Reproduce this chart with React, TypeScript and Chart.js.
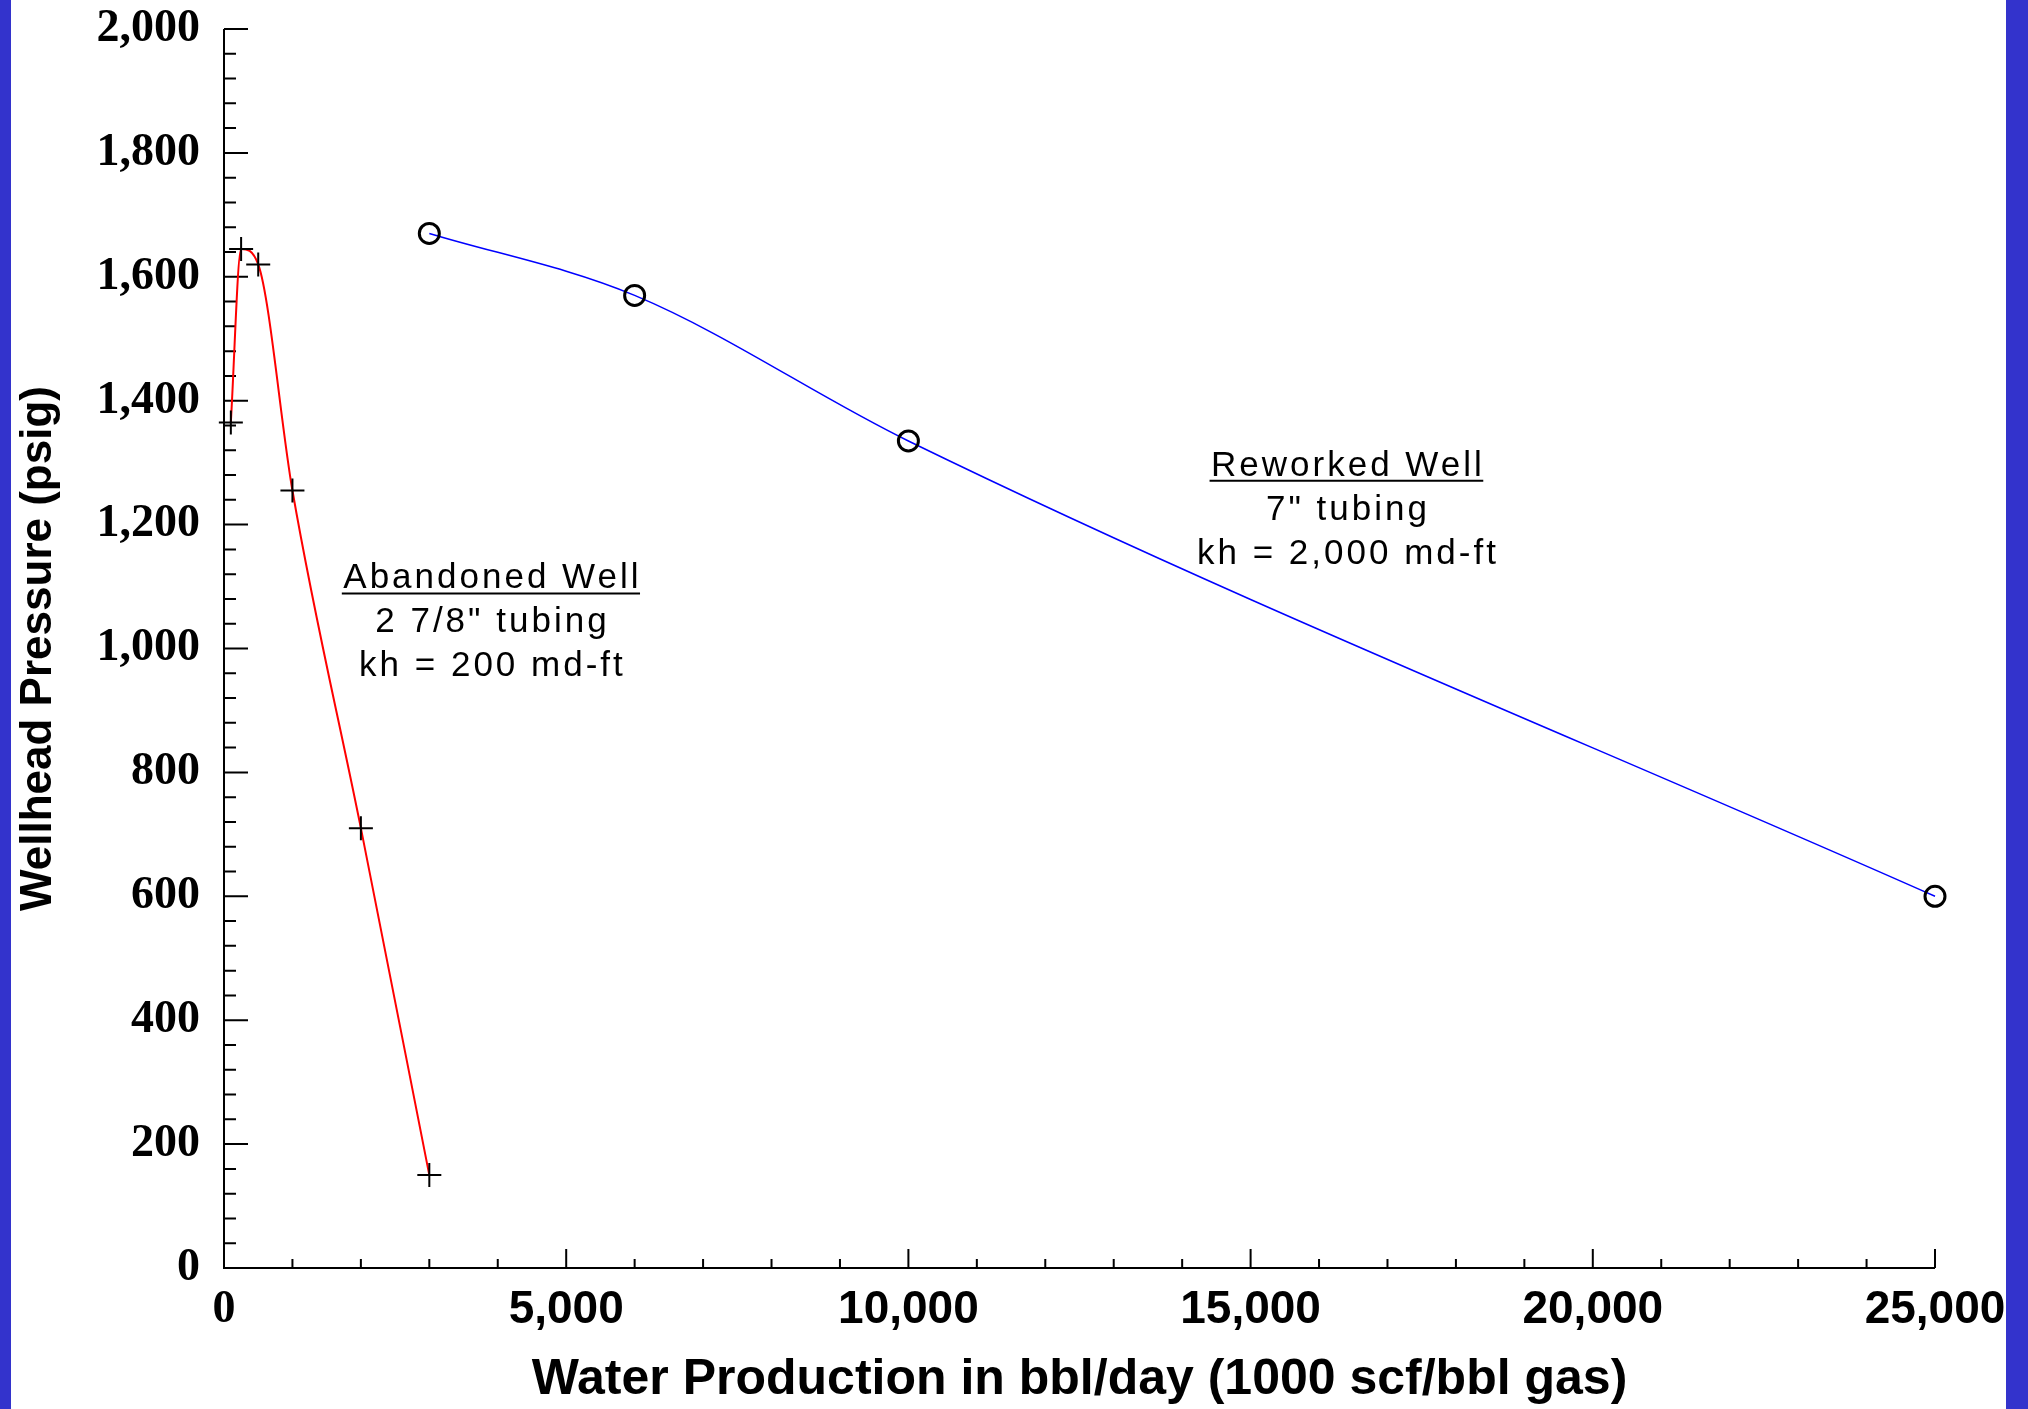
import React, { useEffect, useRef } from 'react';
import { Chart, registerables } from 'chart.js';

Chart.register(...registerables);

// ---- data ----
const abandonedX = [100, 250, 500, 1000, 2000, 3000];
const abandonedY = [1365, 1645, 1620, 1255, 710, 150];
const reworkedX = [3000, 6000, 10000, 25000];
const reworkedY = [1670, 1570, 1335, 600];

const xTicks = [0, 5000, 10000, 15000, 20000, 25000];
const yTicks = [0, 200, 400, 600, 800, 1000, 1200, 1400, 1600, 1800, 2000];
const xMinorStep = 1000;
const yMinorStep = 40;

const xTitle = 'Water Production in bbl/day (1000 scf/bbl gas)';
const yTitle = 'Wellhead Pressure (psig)';

const abandonedNote = ['Abandoned Well', '2 7/8" tubing', 'kh = 200 md-ft'];
const abandonedNoteAt = [3900, 1097];
const reworkedNote = ['Reworked Well', '7" tubing', 'kh = 2,000 md-ft'];
const reworkedNoteAt = [16400, 1279];

const fmt = (v: number) => Number(v).toLocaleString('en-US');

const axesPlugin = {
  id: 'axesTicks',
  beforeDatasetsDraw(chart: any) {
    const { ctx, scales } = chart;
    const xs = scales.x;
    const ys = scales.y;
    const xMin = xTicks[0];
    const xMax = xTicks[xTicks.length - 1];
    const yMin = yTicks[0];
    const yMax = yTicks[yTicks.length - 1];
    const x0 = xs.getPixelForValue(xMin);
    const y0 = ys.getPixelForValue(yMin);
    ctx.save();
    ctx.strokeStyle = '#000';
    ctx.lineWidth = 2;
    ctx.beginPath();
    ctx.moveTo(x0, ys.getPixelForValue(yMax));
    ctx.lineTo(x0, y0);
    ctx.lineTo(xs.getPixelForValue(xMax), y0);
    for (let v = xMin; v <= xMax; v += xMinorStep) {
      const px = xs.getPixelForValue(v);
      const major = xTicks.includes(v);
      ctx.moveTo(px, y0);
      ctx.lineTo(px, y0 - (major ? 19 : 9));
    }
    for (let v = yMin; v <= yMax; v += yMinorStep) {
      const py = ys.getPixelForValue(v);
      const major = yTicks.includes(v);
      ctx.moveTo(x0, py);
      ctx.lineTo(x0 + (major ? 24 : 12), py);
    }
    ctx.stroke();
    ctx.restore();
  },
};

const notesPlugin = {
  id: 'notes',
  afterDatasetsDraw(chart: any) {
    const { ctx, scales } = chart;
    const notes: [string[], number[]][] = [
      [abandonedNote, abandonedNoteAt],
      [reworkedNote, reworkedNoteAt],
    ];
    ctx.save();
    ctx.fillStyle = '#000';
    ctx.strokeStyle = '#000';
    ctx.font = '35px "Liberation Sans", Arial, sans-serif';
    try { (ctx as any).letterSpacing = '3px'; } catch (e) {}
    ctx.textAlign = 'center';
    ctx.textBaseline = 'alphabetic';
    for (const [lines, at] of notes) {
      const cx = scales.x.getPixelForValue(at[0]);
      const by = scales.y.getPixelForValue(at[1]);
      lines.forEach((line, i) => {
        const yy = by + i * 44;
        ctx.fillText(line, cx + 1.5, yy);
        if (i === 0) {
          const w = ctx.measureText(line).width;
          ctx.lineWidth = 2;
          ctx.beginPath();
          ctx.moveTo(cx - w / 2, yy + 5);
          ctx.lineTo(cx + w / 2, yy + 5);
          ctx.stroke();
        }
      });
    }
    ctx.restore();
  },
};

export default function App() {
  const ref = useRef<HTMLCanvasElement | null>(null);

  useEffect(() => {
    if (!ref.current) return;
    const chart = new Chart(ref.current, {
      type: 'scatter',
      data: {
        datasets: [
          {
            label: 'Abandoned Well',
            data: abandonedX.map((x, i) => ({ x, y: abandonedY[i] })),
            showLine: true,
            clip: false,
            borderColor: '#ff0000',
            borderWidth: 2,
            cubicInterpolationMode: 'monotone',
            pointStyle: 'cross',
            pointRadius: 12,
            pointBorderColor: '#000',
            pointBorderWidth: 2,
            pointBackgroundColor: 'rgba(0,0,0,0)',
          },
          {
            label: 'Reworked Well',
            data: reworkedX.map((x, i) => ({ x, y: reworkedY[i] })),
            showLine: true,
            clip: false,
            borderColor: '#0000ff',
            borderWidth: 1.5,
            cubicInterpolationMode: 'monotone',
            pointStyle: 'circle',
            pointRadius: 10,
            pointBorderColor: '#000',
            pointBorderWidth: 3,
            pointBackgroundColor: 'rgba(0,0,0,0)',
          },
        ],
      } as any,
      options: {
        animation: false,
        responsive: false,
        devicePixelRatio: 1,
        layout: { padding: { left: 0, right: 71, top: 29, bottom: 0 } },
        plugins: {
          legend: { display: false },
          tooltip: { enabled: false },
        },
        scales: {
          x: {
            type: 'linear',
            min: xTicks[0],
            max: xTicks[xTicks.length - 1],
            afterBuildTicks: (s: any) => {
              s.ticks = xTicks.map((v) => ({ value: v }));
            },
            afterFit: (s: any) => {
              s.height = 141;
              s.paddingLeft = 0;
              s.paddingRight = 0;
              s.paddingTop = 0;
              s.paddingBottom = 0;
            },
            grid: { display: false, drawTicks: false },
            border: { display: false },
            ticks: {
              color: '#000',
              padding: 15,
              maxRotation: 0,
              autoSkip: false,
              callback: (v: any) => fmt(v),
              font: (c: any) =>
                c.tick && c.tick.value === 0
                  ? { family: '"Liberation Serif", "Times New Roman", serif', size: 46, weight: 'bold' }
                  : { family: '"Liberation Sans", Arial, sans-serif', size: 46, weight: 'bold' },
            },
            title: {
              display: true,
              text: xTitle,
              color: '#000',
              font: { family: '"Liberation Sans", Arial, sans-serif', size: 50, weight: 'bold', lineHeight: 1 },
              padding: { top: 0, bottom: 4 },
            },
          },
          y: {
            type: 'linear',
            min: yTicks[0],
            max: yTicks[yTicks.length - 1],
            afterBuildTicks: (s: any) => {
              s.ticks = yTicks.map((v) => ({ value: v }));
            },
            afterFit: (s: any) => {
              s.width = 213;
              s.paddingLeft = 0;
              s.paddingRight = 0;
              s.paddingTop = 0;
              s.paddingBottom = 0;
            },
            grid: { display: false, drawTicks: false },
            border: { display: false },
            ticks: {
              color: '#000',
              padding: 24,
              autoSkip: false,
              callback: (v: any) => fmt(v),
              font: { family: '"Liberation Serif", "Times New Roman", serif', size: 46, weight: 'bold' },
            },
            title: {
              display: true,
              text: yTitle,
              color: '#000',
              font: { family: '"Liberation Sans", Arial, sans-serif', size: 44, weight: 'bold', lineHeight: 1 },
              padding: { top: 6, bottom: 0 },
            },
          },
        },
      } as any,
      plugins: [axesPlugin, notesPlugin],
    });
    return () => chart.destroy();
  }, []);

  return (
    <div
      style={{
        position: 'absolute',
        left: 0,
        top: 0,
        width: 2028,
        height: 1409,
        background: '#3333cc',
        overflow: 'hidden',
      }}
    >
      <canvas
        ref={ref}
        width={1995}
        height={1409}
        style={{ position: 'absolute', left: 11, top: 0, width: 1995, height: 1409, background: '#ffffff' }}
      />
    </div>
  );
}
